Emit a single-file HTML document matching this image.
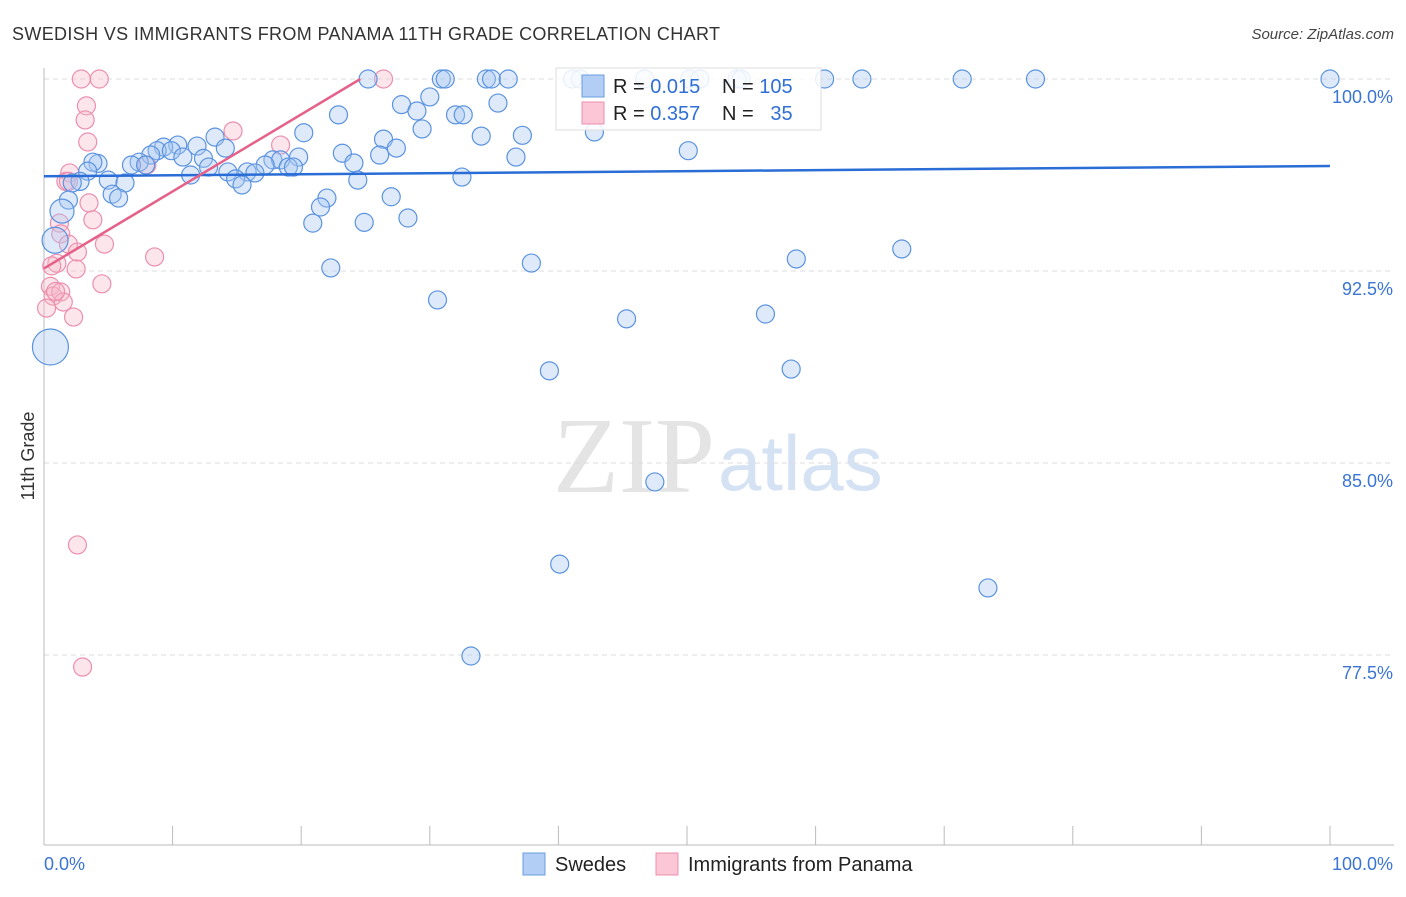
<!DOCTYPE html>
<html><head><meta charset="utf-8"><style>
body{margin:0;background:#fff;font-family:"Liberation Sans",sans-serif}
svg text{font-family:"Liberation Sans",sans-serif}
</style></head><body>
<svg id="chart" width="1406" height="892" xmlns="http://www.w3.org/2000/svg">
<text x="12" y="40" font-size="18" fill="#333" textLength="708" lengthAdjust="spacing">SWEDISH VS IMMIGRANTS FROM PANAMA 11TH GRADE CORRELATION CHART</text>
<text x="1394" y="39" font-size="15" fill="#444" text-anchor="end" font-style="italic">Source: ZipAtlas.com</text>
<text x="553" y="492" font-size="108" fill="#e4e4e4" font-family="Liberation Serif" style="font-family:'Liberation Serif',serif">ZIP</text>
<text x="718" y="490" font-size="78" fill="#d5e2f4">atlas</text>
<text transform="translate(34,456) rotate(-90)" font-size="18" fill="#333" text-anchor="middle">11th Grade</text>
<g id="grid"></g><g id="axes"></g><g id="marks"></g><g id="trends"></g>
<g>
<rect x="556" y="68" width="265" height="62" fill="#fff" fill-opacity="0.85" stroke="#ddd"/>
<rect x="582" y="75" width="22" height="22" fill="#b3cef5" stroke="#6a9de0"/>
<rect x="582" y="102" width="22" height="22" fill="#fbc6d5" stroke="#ec8fae"/>
<text x="613" y="93" font-size="20" fill="#222">R = <tspan fill="#2f6fd6">0.015</tspan></text>
<text x="722" y="93" font-size="20" fill="#222">N = <tspan fill="#2f6fd6">105</tspan></text>
<text x="613" y="120" font-size="20" fill="#222">R = <tspan fill="#2f6fd6">0.357</tspan></text>
<text x="722" y="120" font-size="20" fill="#222">N = <tspan fill="#2f6fd6">&#160; 35</tspan></text>
</g>
<g>
<rect x="523" y="853" width="22" height="22" fill="#b3cef5" stroke="#6a9de0"/>
<text x="555" y="871" font-size="20" fill="#222">Swedes</text>
<rect x="656" y="853" width="22" height="22" fill="#fbc6d5" stroke="#ec8fae"/>
<text x="688" y="871" font-size="20" fill="#222">Immigrants from Panama</text>
</g>
</svg>
<script>
const yTicks=[100,92.5,85,77.5];
const yTickLabels=["100.0%","92.5%","85.0%","77.5%"];
const xTickLabels=["0.0%","100.0%"];
const blueX=[25.2,30.9,31.2,34.4,34.8,36.1,41.1,41.7,46.7,50.2,51,53.9,54.2,60.7,63.6,71.4,77.1,100,27.8,30.0,29,35.3,32,32.6,22.9,29.4,20.2,26.4,34,37.2,42.8,13.3,27.4,23.2,26.1,36.7,50.1,10.4,11.9,9.3,8.8,9.9,8.3,10.8,14.1,12.4,19.8,7.4,6.8,7.9,4.2,3.8,3.4,17.8,18.4,17.2,19,19.4,24.1,12.8,11.4,14.3,15.8,16.4,14.9,15.4,5,6.3,2.8,2.2,32.5,24.4,5.3,5.8,1.9,22,21.5,27,28.3,20.9,24.9,1.4,0.86,22.3,37.9,58.5,66.7,30.6,45.3,56.1,0.5,39.3,58.1,47.5,40.1,73.4,33.2];
const blueY=[100,100,100,100,100,100,100,100,100,100,100,100,100,100,100,100,100,100,99.0,99.3,98.75,99.06,98.6,98.6,98.6,98.05,97.9,97.65,97.77,97.8,97.93,97.73,97.3,97.1,97.03,96.95,97.2,97.42,97.38,97.34,97.2,97.2,97.03,96.95,97.3,96.9,96.95,96.75,96.64,96.64,96.7,96.75,96.4,96.84,96.84,96.64,96.56,96.56,96.72,96.56,96.25,96.37,96.37,96.33,96.1,95.86,96.05,95.94,96.0,95.94,96.17,96.05,95.5,95.35,95.27,95.35,95.0,95.4,94.57,94.37,94.4,94.84,93.7,92.62,92.81,92.97,93.36,91.37,90.63,90.82,89.53,88.6,88.67,84.26,81.05,80.12,77.46];
const blueR=[9,9,9,9,9,9,9,9,9,9,9,9,9,9,9,9,9,9,9,9,9,9,9,9,9,9,9,9,9,9,9,9,9,9,9,9,9,9,9,9,9,9,9,9,9,9,9,9,9,9,9,9,9,9,9,9,9,9,9,9,9,9,9,9,9,9,9,9,9,9,9,9,9,9,9,9,9,9,9,9,9,12,13,9,9,9,9,9,9,9,18,9,9,9,9,9,9];
const pinkX=[2.9,4.3,26.4,3.3,3.2,3.4,14.7,18.4,8,2,1.7,1.9,3.5,3.8,1.2,1.3,1.9,2.6,4.7,8.6,1,0.6,2.5,4.5,0.5,0.7,1.3,1.5,0.2,2.3,2.6,3,0.9];
const pinkY=[100,100,100,98.95,98.4,97.54,97.97,97.42,96.64,96.33,96.0,96.0,95.16,94.5,94.37,93.95,93.55,93.24,93.55,93.05,92.8,92.7,92.58,92.0,91.9,91.52,91.68,91.29,91.05,90.7,81.8,77.03,91.7];
const blueTrendX=[0,100], blueTrendY=[96.2,96.6];
const pinkTrendX=[0,24.6], pinkTrendY=[92.6,100];
const X0=44,X1=1330,Y100=79,PX=25.6;
const sx=v=>X0+(X1-X0)*v/100;
const sy=v=>Y100+(100-v)*PX;
const NS="http://www.w3.org/2000/svg";
function mk(t,a,p){const e=document.createElementNS(NS,t);for(const k in a)e.setAttribute(k,a[k]);p.appendChild(e);return e;}
const grid=document.getElementById('grid'),axes=document.getElementById('axes'),marks=document.getElementById('marks'),trends=document.getElementById('trends');
yTicks.forEach((t,i)=>{
 const l=mk('line',{x1:44,x2:1394,y1:sy(t),y2:sy(t),stroke:'#ddd','stroke-dasharray':'5,4'},grid);
 
 
 const tx=mk('text',{x:1393,y:sy(t)+24,'font-size':18,fill:'#3a74d4','text-anchor':'end'},axes);
 tx.textContent=yTickLabels[i];
 
 
});
const ax=mk('line',{x1:44,x2:1394,y1:845,y2:845,stroke:'#bbb'},axes);


const ay=mk('line',{x1:44,x2:44,y1:68,y2:845,stroke:'#bbb'},axes);


for(let i=0;i<=10;i++){
 const t=mk('line',{x1:sx(i*10),x2:sx(i*10),y1:826,y2:845,stroke:'#bbb'},axes);
 
 
}
const xl0=mk('text',{x:44,y:870,'font-size':18,fill:'#3a74d4'},axes);xl0.textContent=xTickLabels[0];


const xl1=mk('text',{x:1393,y:870,'font-size':18,fill:'#3a74d4','text-anchor':'end'},axes);xl1.textContent=xTickLabels[1];


pinkX.forEach((v,i)=>{
 const c=mk('circle',{cx:sx(v),cy:sy(pinkY[i]),r:9,fill:'#f7b6c8','fill-opacity':0.35,stroke:'#ec8fae','stroke-width':1.2},marks);
 
 
});
blueX.forEach((v,i)=>{
 const c=mk('circle',{cx:sx(v),cy:sy(blueY[i]),r:blueR[i],fill:'#a9c8f2','fill-opacity':0.38,stroke:'#5b93e0','stroke-width':1.2},marks);
 
 
});
const bt=mk('line',{x1:sx(blueTrendX[0]),y1:sy(blueTrendY[0]),x2:sx(blueTrendX[1]),y2:sy(blueTrendY[1]),stroke:'#2a6dd6','stroke-width':2.5},trends);


const pt=mk('line',{x1:sx(pinkTrendX[0]),y1:sy(pinkTrendY[0]),x2:sx(pinkTrendX[1]),y2:sy(pinkTrendY[1]),stroke:'#e5618a','stroke-width':2.5},trends);


</script>
</body></html>
